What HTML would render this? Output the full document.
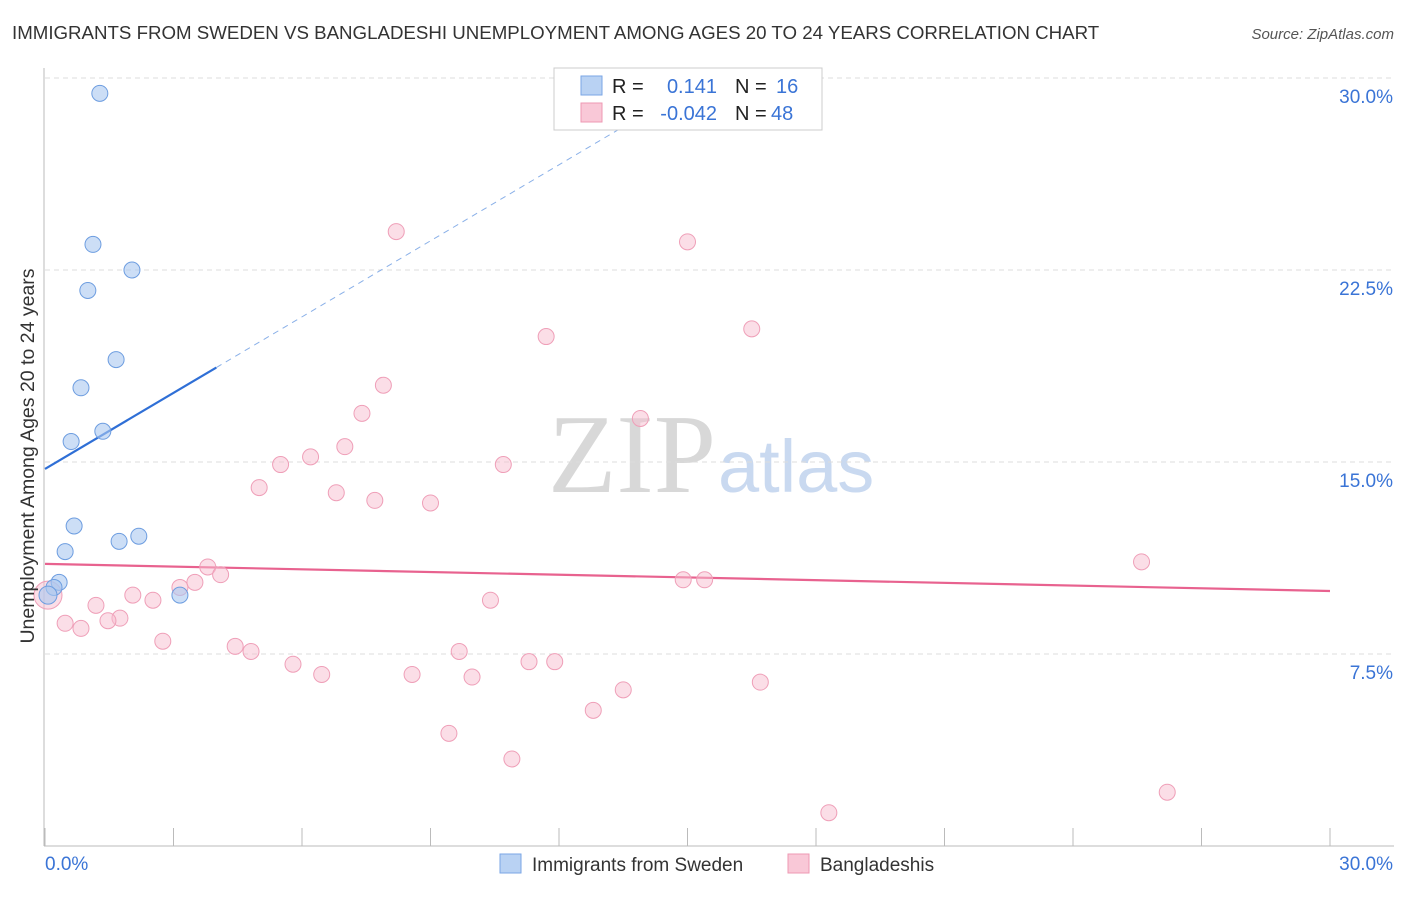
<!DOCTYPE html>
<html><head><meta charset="utf-8"><style>
body{margin:0;background:#fff;font-family:"Liberation Sans",sans-serif;}
svg text{font-family:"Liberation Sans",sans-serif;}
</style></head><body>
<svg id="c" width="1406" height="892" xmlns="http://www.w3.org/2000/svg">
<text x="12" y="39" font-size="18.7" fill="#333">IMMIGRANTS FROM SWEDEN VS BANGLADESHI UNEMPLOYMENT AMONG AGES 20 TO 24 YEARS CORRELATION CHART</text>
<text x="1394" y="39" font-size="15" fill="#555" font-style="italic" text-anchor="end">Source: ZipAtlas.com</text>
<text x="716" y="492" font-size="112" fill="#d8d8d8" text-anchor="end" style="font-family:'Liberation Serif',serif">ZIP</text>
<text x="718" y="492" font-size="74" fill="#c9d9f0">atlas</text>
<g id="grid"></g><g id="axes"></g><g id="lines"></g><g id="pts"></g>
<g>
<rect x="554" y="68" width="268" height="62" fill="#fff" stroke="#ccc"/>
<rect x="581" y="76" width="21" height="19" fill="#b9d2f3" stroke="#7aa6e6"/>
<rect x="581" y="103" width="21" height="19" fill="#f9c8d7" stroke="#ee98b3"/>
<text x="612" y="93" font-size="20" fill="#222">R =</text>
<text x="717" y="93" font-size="20" fill="#3a74d6" text-anchor="end">0.141</text>
<text x="735" y="93" font-size="20" fill="#222">N =</text>
<text x="776" y="93" font-size="20" fill="#3a74d6">16</text>
<text x="612" y="120" font-size="20" fill="#222">R =</text>
<text x="717" y="120" font-size="20" fill="#3a74d6" text-anchor="end">-0.042</text>
<text x="735" y="120" font-size="20" fill="#222">N =</text>
<text x="771" y="120" font-size="20" fill="#3a74d6">48</text>
</g>
<g>
<rect x="500" y="854" width="21" height="19" fill="#b9d2f3" stroke="#7aa6e6"/>
<text x="532" y="871" font-size="19" fill="#333">Immigrants from Sweden</text>
<rect x="788" y="854" width="21" height="19" fill="#f9c8d7" stroke="#ee98b3"/>
<text x="820" y="871" font-size="19" fill="#333">Bangladeshis</text>
</g>
<text transform="translate(34,456) rotate(-90)" font-size="19.5" fill="#333" text-anchor="middle">Unemployment Among Ages 20 to 24 years</text>
</svg>
<script>
const yTicks=[7.5,15,22.5,30];
const yTickLabels=["7.5%","15.0%","22.5%","30.0%"];
const xTickLabels=["0.0%","30.0%"];
const swedenX=[1.28,1.12,2.03,1.0,1.66,0.84,0.61,1.35,0.68,0.47,1.73,2.19,0.33,0.21,3.15,0.07];
const swedenY=[29.4,23.5,22.5,21.7,19.0,17.9,15.8,16.2,12.5,11.5,11.9,12.1,10.3,10.1,9.8,9.8];
const bangX=[8.2,15.0,11.7,16.5,7.9,7.4,13.9,7.0,6.2,5.5,10.7,5.0,6.8,7.7,9.0,25.6,3.8,4.1,14.9,15.4,3.5,3.15,2.05,2.52,1.19,10.4,1.75,1.47,0.47,0.84,2.75,4.44,4.81,9.67,5.79,11.3,11.9,6.46,8.57,9.97,16.7,13.5,12.8,9.43,10.9,26.2,18.3,0.07];
const bangY=[24.0,23.6,19.9,20.2,18.0,16.9,16.7,15.6,15.2,14.9,14.9,14.0,13.8,13.5,13.4,11.1,10.9,10.6,10.4,10.4,10.3,10.1,9.8,9.6,9.4,9.6,8.9,8.8,8.7,8.5,8.0,7.8,7.6,7.6,7.1,7.2,7.2,6.7,6.7,6.6,6.4,6.1,5.3,4.4,3.4,2.1,1.3,9.8];
const swedenTrend=[14.73,0.99];
const bangTrend=[11.02,-0.0353];
const NS="http://www.w3.org/2000/svg";
const X=v=>45+v/30*1285, Y=v=>846-v*25.6;
function mk(t,a,p){const e=document.createElementNS(NS,t);for(const k in a)e.setAttribute(k,a[k]);document.getElementById(p).appendChild(e);return e;}
yTicks.forEach((t,i)=>{
 const g=mk('line',{x1:45,x2:1394,y1:Y(t),y2:Y(t),stroke:'#ddd','stroke-dasharray':'5,4'},'grid');
 
 
 const l=mk('text',{x:1393,y:Y(t)+25,'font-size':19,fill:'#3a74d6','text-anchor':'end'},'axes');
 l.textContent=yTickLabels[i];
 
 
});
const ax=mk('line',{x1:44,x2:44,y1:68,y2:846,stroke:'#bbb'},'axes');


const bx=mk('line',{x1:44,x2:1394,y1:846,y2:846,stroke:'#bbb'},'axes');


for(let i=0;i<=10;i++){const t=mk('line',{x1:X(i*3),x2:X(i*3),y1:828,y2:846,stroke:'#bbb'},'axes');
 
 }
[[0,45,'start'],[30,1393,'end']].forEach((d,i)=>{const t=mk('text',{x:d[1],y:870,'font-size':19,fill:'#3a74d6','text-anchor':d[2]},'axes');t.textContent=xTickLabels[i];
 
 });
const sy=x=>swedenTrend[0]+swedenTrend[1]*x, by=x=>bangTrend[0]+bangTrend[1]*x;
const s1=mk('line',{x1:X(0),y1:Y(sy(0)),x2:X(4.0),y2:Y(sy(4.0)),stroke:'#2f6fd6','stroke-width':2.2},'lines');


const s2=mk('line',{x1:X(4.0),y1:Y(sy(4.0)),x2:X(14),y2:Y(sy(14)),stroke:'#8ab0e8','stroke-width':1,'stroke-dasharray':'6,5'},'lines');


const b1=mk('line',{x1:X(0),y1:Y(by(0)),x2:X(30),y2:Y(by(30)),stroke:'#e8628f','stroke-width':2.2},'lines');


bangX.forEach((x,i)=>{const c=mk('circle',{cx:X(x),cy:Y(bangY[i]),r:i==bangX.length-1?14:8,fill:'rgba(248,190,208,0.5)',stroke:'#ef9fb8','stroke-width':1},'pts');
 
 });
swedenX.forEach((x,i)=>{const c=mk('circle',{cx:X(x),cy:Y(swedenY[i]),r:i==swedenX.length-1?9:8,fill:'rgba(170,200,240,0.6)',stroke:'#6d9de0','stroke-width':1},'pts');
 
 });
</script>
</body></html>
